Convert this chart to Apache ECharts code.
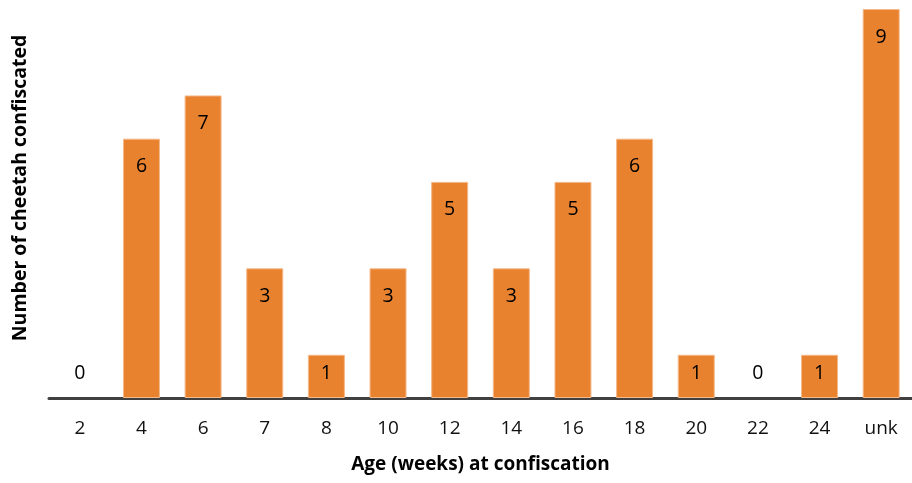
<!DOCTYPE html>
<html><head><meta charset="utf-8">
<script src="https://cdn.jsdelivr.net/npm/echarts@6/dist/echarts.min.js"></script>
<style>html,body{margin:0;padding:0;background:#fff}#c{width:912px;height:483px}</style>
</head><body><div id="c"></div>
<script>
const categories = ['2','4','6','7','8','10','12','14','16','18','20','22','24','unk'];
const counts = [0,6,7,3,1,3,5,3,5,6,1,0,1,9];
const xTitle = 'Age (weeks) at confiscation';
const yTitle = 'Number of cheetah confiscated';
const FONT = '"Open Sans", "Liberation Sans", sans-serif';

const chart = echarts.init(document.getElementById('c'));
chart.setOption({
  animation: false,
  grid: { left: 49, top: 9, width: 864, bottom: 85, containLabel: false },
  xAxis: {
    type: 'category', data: categories,
    axisLine: { lineStyle: { color: '#404040', width: 3 } },
    axisTick: { show: false },
    axisLabel: { color: '#111', fontSize: 19, fontFamily: FONT, margin: 21 },
    name: xTitle, nameLocation: 'middle', nameGap: 57,
    nameTextStyle: { fontSize: 19, fontWeight: 'bold', color: '#000', fontFamily: FONT }
  },
  yAxis: {
    type: 'value', min: 0, max: 9, interval: 1,
    axisLine: { show: false }, axisTick: { show: false }, axisLabel: { show: false },
    splitLine: { show: false }
  },
  graphic: [{
    type: 'text', x: 20, y: 188, rotation: Math.PI / 2,
    style: { text: yTitle, fill: '#000', font: 'bold 19.5px ' + FONT, align: 'center', verticalAlign: 'middle' }
  }],
  series: [{
    type: 'bar', barWidth: 37,
    data: counts.map(v => ({
      value: v,
      itemStyle: v === 0 ? { borderWidth: 0, color: 'rgba(0,0,0,0)' } : {},
      label: v === 0 ? { position: 'top', distance: 15 }
           : v === 1 ? { position: 'inside', offset: [0, -3] } : {}
    })),
    itemStyle: { color: '#E8822F', borderColor: '#F5B98A', borderWidth: 1 },
    label: { show: true, position: 'insideTop', distance: 18, color: '#000', fontSize: 19.5, fontFamily: FONT }
  }]
});
</script></body></html>
